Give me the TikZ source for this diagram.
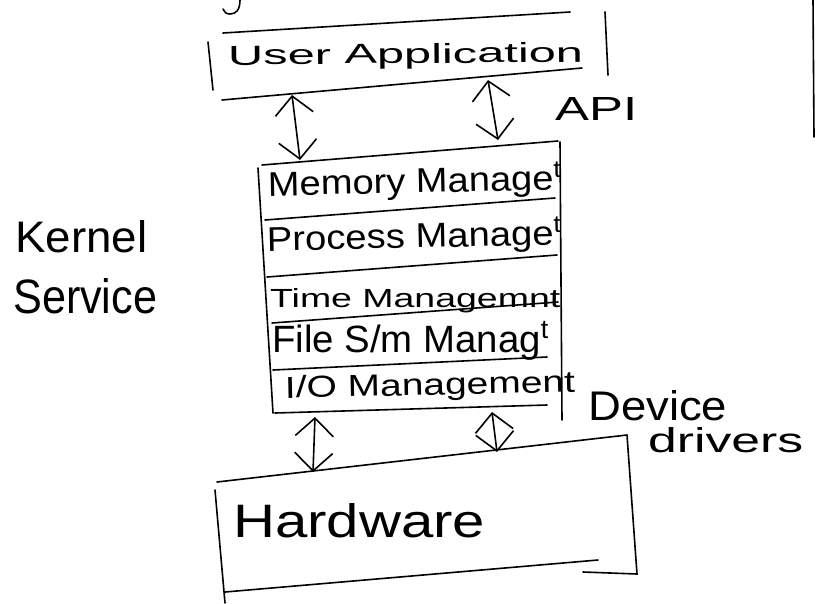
\documentclass[tikz,border=0pt]{standalone}
\usepackage{fontspec}
\setmainfont{Liberation Sans}
\usetikzlibrary{arrows.meta}
\newcommand{\hwtext}[3]{\resizebox{#1pt}{#2pt}{#3}}
\begin{document}
\begin{tikzpicture}[x=1pt,y=-1pt,
  pen/.style={line width=1.6pt, line cap=round, draw=black},
  dbl/.style={pen, {Straight Barb[length=18pt,width=38pt]}-{Straight Barb[length=18pt,width=38pt]}},
  hw/.style={inner sep=0pt, anchor=base west, text=black},
  tilt/.style={rotate=1.2}]
\fill[white] (0,0) rectangle (816,603);
\useasboundingbox (0,0) rectangle (816,603);

% fragment at top and page edge
\draw[pen] (240,0) .. controls (240,10) and (236,14) .. (230,14) .. controls (226,14) and (224,12) .. (223,9);
\draw[pen] (813,0) -- (814,137);

% User Application box
\draw[pen] (223,33) -- (570,12);
\draw[pen] (605,12) -- (608,75);
\draw[pen] (208,42) -- (213,90);
\draw[pen] (222,100) -- (582,68);
\node[hw, rotate=0.5] (user) at (228,65) {\hwtext{355}{20}{User Application}};
\node[hw] (api) at (555,120) {\hwtext{82}{23}{API}};

% Kernel box
\draw[pen] (262,165) -- (558,141);
\draw[pen] (258,168) -- (273,413);
\draw[pen] (560,142) -- (562,420);
\draw[pen] (265,220) -- (555,198);
\draw[pen] (267,277) -- (557,255);
\draw[pen] (272,323) -- (558,302);
\draw[pen] (273,370) -- (547,357);
\draw[pen] (275,413) -- (547,405);
\node[hw, tilt] (mem) at (268,196) {\hwtext{295}{28}{Memory Manage\textsuperscript{t}}};
\node[hw, tilt] (proc) at (267,251) {\hwtext{296}{28}{Process Manage\textsuperscript{t}}};
\node[hw] (time) at (270,307) {\hwtext{290}{19}{Time Managemnt}};
\node[hw] (file) at (272,352) {\hwtext{278}{31}{File S/m Manag\textsuperscript{t}}};
\node[hw, tilt] (io) at (285,398) {\hwtext{290}{22}{I/O Management}};

\node[hw] (kernel) at (15,252) {\hwtext{132}{32}{Kernel}};
\node[hw] (service) at (13,313) {\hwtext{144}{35}{Service}};

\node[hw] (dev) at (588,420) {\hwtext{139}{30}{Device}};
\node[hw] (drv) at (648,452) {\hwtext{155}{25}{drivers}};

% Hardware box
\draw[pen] (217,482) -- (627,435);
\draw[pen] (627,435) -- (637,574) -- (583,572);
\draw[pen] (225,592) -- (598,560);
\draw[pen] (215,490) -- (225,603);
\node[hw] (hwn) at (233,537) {\hwtext{252}{34}{Hardware}};

% arrows
\coordinate (a1t) at (292,95);
\coordinate (a1b) at (300,160);
\coordinate (a2t) at (488,80);
\coordinate (a2b) at (498,140);
\coordinate (a3t) at (315,417);
\coordinate (a3b) at (313,472);
\coordinate (a4t) at (492,412);
\coordinate (a4b) at (497,452);
\draw[dbl] (a1t) -- (a1b);
\draw[dbl] (a2t) -- (a2b);
\draw[dbl] (a3t) -- (a3b);
\draw[dbl] (a4t) -- (a4b);
\end{tikzpicture}
\end{document}
